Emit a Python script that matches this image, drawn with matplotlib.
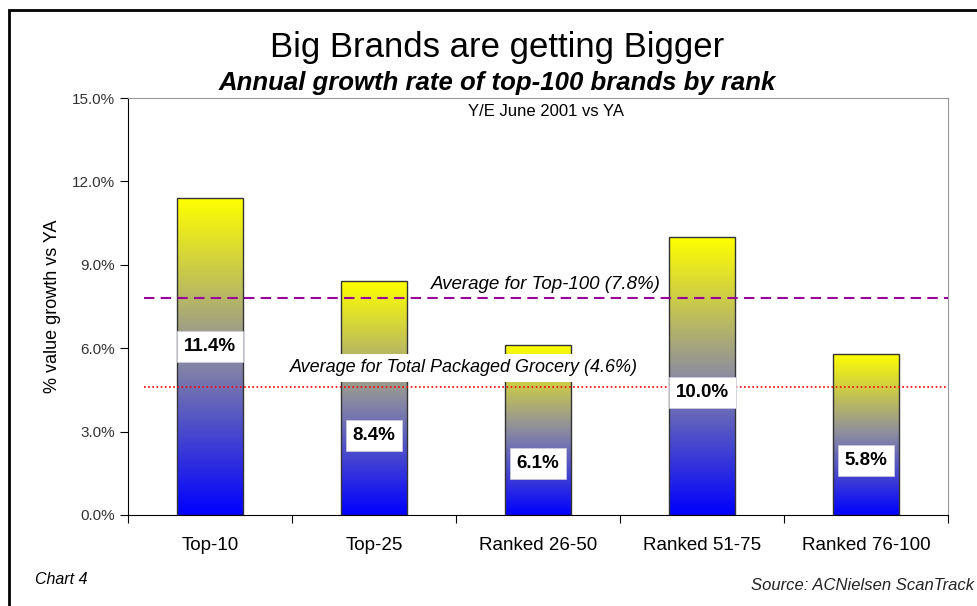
import numpy as np
import matplotlib.pyplot as plt
from matplotlib.colors import LinearSegmentedColormap
from matplotlib.patches import Rectangle

categories = ['Top-10', 'Top-25', 'Ranked 26-50', 'Ranked 51-75', 'Ranked 76-100']
growth = [11.4, 8.4, 6.1, 10.0, 5.8]
value_labels = ['11.4%', '8.4%', '6.1%', '10.0%', '5.8%']
label_y = [6.05, 2.85, 1.85, 4.4, 1.95]
avg_top100 = 7.8
avg_grocery = 4.6
yticks = [0, 3, 6, 9, 12, 15]

plt.rcParams['font.family'] = ['Liberation Sans', 'DejaVu Sans']

fig = plt.figure(figsize=(9.78, 6.06), dpi=100)
ax = fig.add_axes([128/978, 91/606, 820/978, 417/606])

# outer frame
fig.patches.append(Rectangle((9/978, -0.05), 1.1, 1.05 - 10/606,
                             transform=fig.transFigure, fill=False, edgecolor='black', lw=2))

cmap = LinearSegmentedColormap.from_list('yb', ['#0000ff', '#8c8ca0', '#ffff00'])
grad = np.linspace(0, 1, 256).reshape(-1, 1)

x = np.arange(len(categories))
bars = ax.bar(x, growth, width=0.4, color='none', edgecolor='#333333', lw=1, zorder=2)
for b in bars:
    x0, w, h = b.get_x(), b.get_width(), b.get_height()
    im = ax.imshow(grad, cmap=cmap, origin='lower', aspect='auto',
                   extent=[x0, x0 + w, 0, h], zorder=1)
    im.set_clip_path(b)

ax.plot([-0.4, 4.5], [avg_top100, avg_top100], color='#990099', ls=(0, (5, 3)), lw=1.5, zorder=3)
ax.plot([-0.4, 4.5], [avg_grocery, avg_grocery], color='#ff0000', ls=(0, (1, 1.5)), lw=1.2, zorder=3)

ax.text(2.05, 8.3, 'Average for Top-100 (7.8%)', ha='center', va='center', style='italic',
        fontsize=13.5, zorder=4, bbox=dict(facecolor='white', edgecolor='none', pad=2))
ax.text(1.55, 5.3, 'Average for Total Packaged Grocery (4.6%)', ha='center', va='center',
        style='italic', fontsize=13, zorder=4,
        bbox=dict(facecolor='white', edgecolor='none', pad=4))

for xi, yl, lab in zip(x, label_y, value_labels):
    ax.text(xi, yl, lab, ha='center', va='center', fontsize=13.5, fontweight='bold', zorder=5,
            bbox=dict(facecolor='white', edgecolor='#ccccdd', lw=0.5, pad=5))

ax.text(2.05, 14.5, 'Y/E June 2001 vs YA', ha='center', va='center', fontsize=12)

ax.set_xlim(-0.5, 4.5)
ax.set_ylim(0, 15)
ax.set_yticks(yticks)
ax.set_yticklabels([f'{v:.1f}%' for v in yticks], fontsize=11, color='#333333')
ax.set_xticks(np.arange(-0.5, 5, 1))
ax.set_xticklabels([])
ax.set_xticks(x, minor=True)
ax.set_xticklabels(categories, minor=True, fontsize=13.5)
ax.tick_params(axis='x', which='minor', length=0, pad=16)
ax.tick_params(axis='x', which='major', direction='out', length=6)
ax.tick_params(axis='y', direction='out', length=6)
ax.spines['top'].set_color('#999999')
ax.spines['right'].set_color('#999999')
ax.set_ylabel('% value growth vs YA', fontsize=13, labelpad=8)

fig.text(497/978, 1 - 48/606, 'Big Brands are getting Bigger', ha='center', va='center', fontsize=25)
fig.text(497/978, 1 - 83/606, 'Annual growth rate of top-100 brands by rank', ha='center',
         va='center', fontsize=18.5, fontweight='bold', style='italic')
fig.text(35/978, 1 - 580/606, 'Chart 4', style='italic', fontsize=11.5, va='center')
fig.text(974/978, 1 - 585/606, 'Source: ACNielsen ScanTrack', style='italic', fontsize=12,
         va='center', ha='right', color='#222222')

fig.savefig('out.png', dpi=100)
